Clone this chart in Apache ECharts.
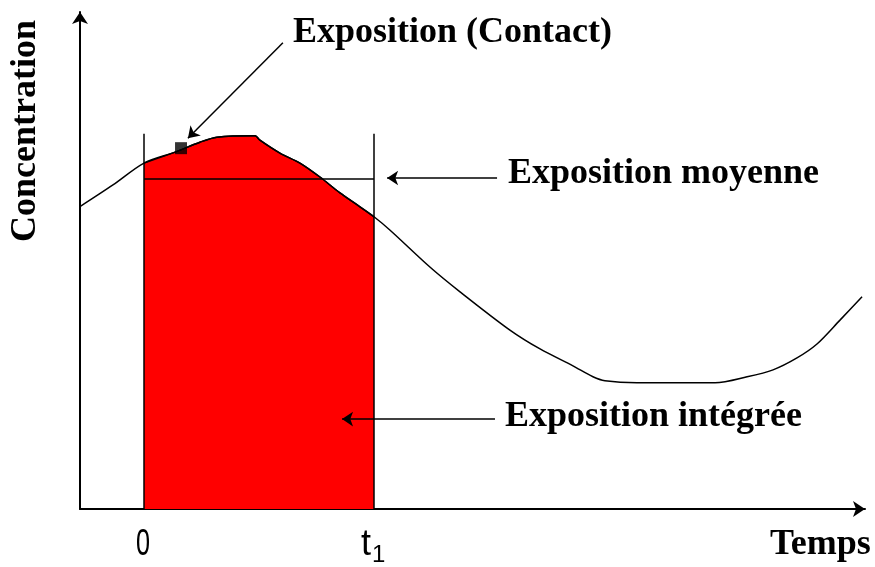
<!DOCTYPE html>
<html>
<head>
<meta charset="utf-8">
<script src="https://cdn.jsdelivr.net/npm/echarts@6/dist/echarts.min.js"></script>
<style>
  html, body { margin: 0; padding: 0; background: #fff; }
  #main { width: 875px; height: 567px; }
</style>
</head>
<body>
<div id="main"></div>
<script>
// time in arbitrary units (t1 = 10), concentration in % of axis height
var timeValues = [-2.8, -1.35, 0, 1.35, 2.43, 3.17, 4.83, 5.04, 5.91, 6.78, 7.65, 8.52, 9.39, 10,
  10.7, 12.43, 13.74, 15.91, 17.22, 18.65, 19.52, 20.04, 21.43, 24.83, 26.22, 27.35, 28.39, 29.26, 30.26, 31.22];
var concValues = [60.8, 65.2, 69.6, 71.8, 73.8, 74.8, 75.1, 74.2, 71.6, 69.6, 66.8, 63.6, 60.8, 58.8,
  56.1, 48.7, 43.7, 36.0, 32.2, 28.8, 26.6, 25.8, 25.4, 25.4, 26.6, 28.0, 30.4, 33.2, 38.0, 42.7];
var t0 = 0, t1 = 10;
var meanConc = 66.4;       // exposition moyenne
var boundTop = 75.5;       // top of the t0 / t1 markers
var contactPoint = [1.61, 72.6];
var tickLabels = ['0', 't'];

var curve = timeValues.map(function (t, i) { return [t, concValues[i]]; });
var window01 = curve.filter(function (p) { return p[0] >= t0 && p[0] <= t1; });

var myChart = echarts.init(document.getElementById('main'));
var labelFont = 'bold 36px "Liberation Serif"';

var option = {
    animation: false,
    grid: { left: 80, right: 10, top: 12, bottom: 58 },
    xAxis: {
        type: 'value',
        min: -64 / 23,
        max: 721 / 23,
        axisLine: { onZero: false, lineStyle: { color: '#000', width: 2 }, symbol: ['none', 'arrow'], symbolSize: [12, 12] },
        axisTick: { show: false },
        axisLabel: { show: false },
        splitLine: { show: false }
    },
    yAxis: {
        type: 'value',
        min: 0,
        max: 100,
        axisLine: { show: true, onZero: false, lineStyle: { color: '#000', width: 2 }, symbol: ['none', 'arrow'], symbolSize: [12, 12] },
        axisTick: { show: false },
        axisLabel: { show: false },
        splitLine: { show: false }
    },
    series: [
        {
            name: 'Exposition intégrée',
            type: 'line',
            data: window01,
            smooth: 0.3,
            showSymbol: false,
            lineStyle: { color: '#000', width: 1.5 },
            areaStyle: { color: '#ff0000', opacity: 1 },
            z: 1,
            markLine: {
                silent: true,
                symbol: ['none', 'none'],
                label: { show: false },
                lineStyle: { color: '#000', width: 1.5, type: 'solid' },
                data: [
                    [{ coord: [t0, 0] }, { coord: [t0, boundTop] }],
                    [{ coord: [t1, 0] }, { coord: [t1, boundTop] }],
                    [{ coord: [t0, meanConc] }, { coord: [t1, meanConc] }]
                ]
            }
        },
        {
            name: 'Concentration',
            type: 'line',
            data: curve,
            smooth: 0.3,
            showSymbol: false,
            lineStyle: { color: '#000', width: 1.5 },
            z: 2
        },
        {
            name: 'Contact',
            type: 'scatter',
            data: [contactPoint],
            symbol: 'rect',
            symbolSize: 12,
            itemStyle: { color: '#000' },
            z: 3,
            markLine: {
                silent: true,
                symbol: ['none', 'arrow'],
                symbolSize: 11,
                label: { show: false },
                lineStyle: { color: '#000', width: 1.5, type: 'solid' },
                data: [
                    [{ coord: [6.04, 93.8] }, { coord: [1.91, 74.6] }],
                    [{ coord: [15.35, 66.6] }, { coord: [10.57, 66.6] }],
                    [{ coord: [15.26, 18.1] }, { coord: [8.61, 18.1] }]
                ]
            }
        }
    ],
    graphic: [
        { type: 'text', left: 293, top: 15, style: { text: 'Exposition (Contact)', font: labelFont, fill: '#000' } },
        { type: 'text', left: 508, top: 156, style: { text: 'Exposition moyenne', font: labelFont, fill: '#000' } },
        { type: 'text', left: 505, top: 399, style: { text: 'Exposition intégrée', font: labelFont, fill: '#000' } },
        { type: 'text', left: 770, top: 527, style: { text: 'Temps', font: labelFont, fill: '#000' } },
        { type: 'text', x: 8, y: 242, rotation: Math.PI / 2, style: { text: 'Concentration', font: labelFont, fill: '#000' } },
        { type: 'text', x: 136, y: 527, scaleX: 0.7, style: { text: tickLabels[0], font: '36px "Liberation Sans"', fill: '#000' } },
        {
            type: 'text', x: 361, y: 527,
            style: {
                text: '{t|' + tickLabels[1] + '}{s|1}',
                fill: '#000',
                rich: {
                    t: { font: '36px "Liberation Sans"', verticalAlign: 'top' },
                    s: { font: '24px "Liberation Sans"', padding: [16, 0, 0, 1] }
                }
            }
        }
    ]
};
myChart.setOption(option);
</script>
</body>
</html>
